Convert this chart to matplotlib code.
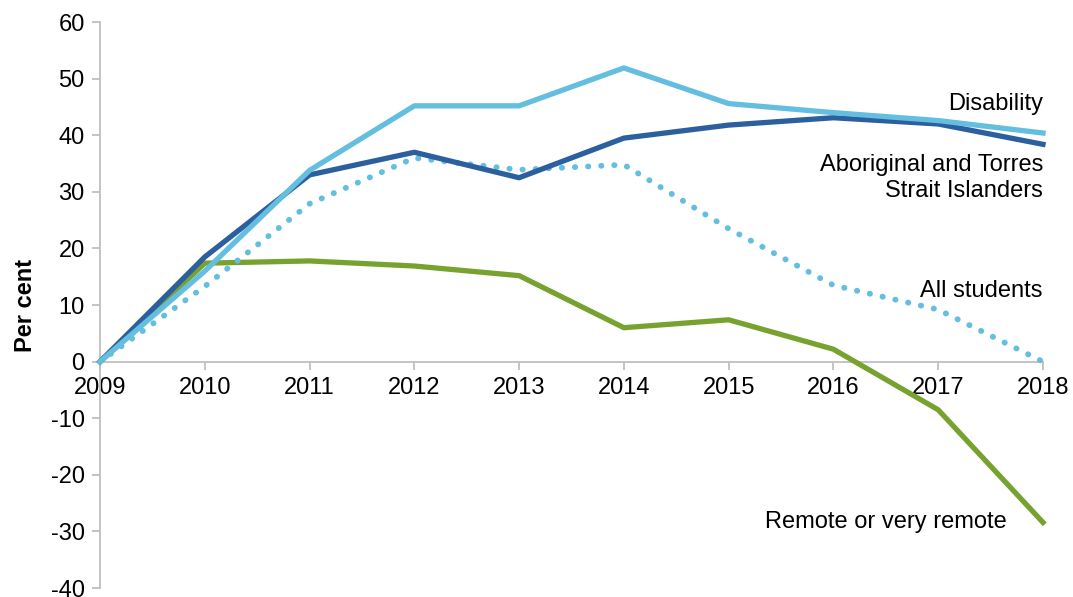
import matplotlib.pyplot as plt

plt.rcParams['font.family'] = ['Liberation Sans', 'DejaVu Sans']
plt.rcParams['axes.unicode_minus'] = False

years = [2009, 2010, 2011, 2012, 2013, 2014, 2015, 2016, 2017, 2018]
disability = [0, 16.0, 33.8, 45.2, 45.2, 51.9, 45.6, 44.0, 42.6, 40.4]
aboriginal = [0, 18.5, 33.0, 37.0, 32.5, 39.5, 41.8, 43.1, 42.0, 38.4]
all_students = [0, 13.3, 27.9, 36.0, 33.9, 34.8, 23.5, 13.5, 9.2, 0]
remote = [0, 17.4, 17.8, 16.9, 15.2, 6.0, 7.4, 2.2, -8.5, -28.4]

c_light = "#63BEDF"
c_dark = "#2B5F9E"
c_green = "#78A22F"
grey = "#BFBFBF"

fig = plt.figure(figsize=(10.73, 5.97), dpi=100)
ax = fig.add_axes([0.0932, 0.015, 0.8788, 0.948])

ax.plot(years, remote, color=c_green, lw=3.8, clip_on=False, zorder=3)
ax.plot(years, all_students, color=c_light, lw=4.2, linestyle=(0, (0.05, 2.2)),
        dash_capstyle='round', clip_on=False, zorder=3)
ax.plot(years, aboriginal, color=c_dark, lw=3.8, clip_on=False, zorder=4)
ax.plot(years, disability, color=c_light, lw=3.8, clip_on=False, zorder=5)

ax.set_xlim(2009, 2018)
ax.set_ylim(-40, 60)
ax.set_xticks(years)
ax.set_yticks(range(-40, 61, 10))

fs = 17

ax.spines['top'].set_visible(False)
ax.spines['right'].set_visible(False)
ax.spines['bottom'].set_position(('data', 0))
for s in ['left', 'bottom']:
    ax.spines[s].set_color(grey)
    ax.spines[s].set_linewidth(1.3)
ax.tick_params(axis='both', colors=grey, width=1.3, length=6, labelcolor='black', labelsize=fs)
ax.tick_params(axis='x', pad=5)
ax.tick_params(axis='y', pad=5)

ax.set_ylabel("Per cent", fontsize=fs, fontweight='bold', labelpad=10)

ax.text(2018, 45.6, "Disability", ha='right', va='center', fontsize=fs)
ax.text(2018, 32.4, "Aboriginal and Torres\nStrait Islanders", ha='right', va='center',
        fontsize=fs, linespacing=1.25)
ax.text(2018, 12.4, "All students", ha='right', va='center', fontsize=fs)
ax.text(2017.65, -28.3, "Remote or very remote", ha='right', va='center', fontsize=fs)

fig.savefig("out.png", dpi=100)
